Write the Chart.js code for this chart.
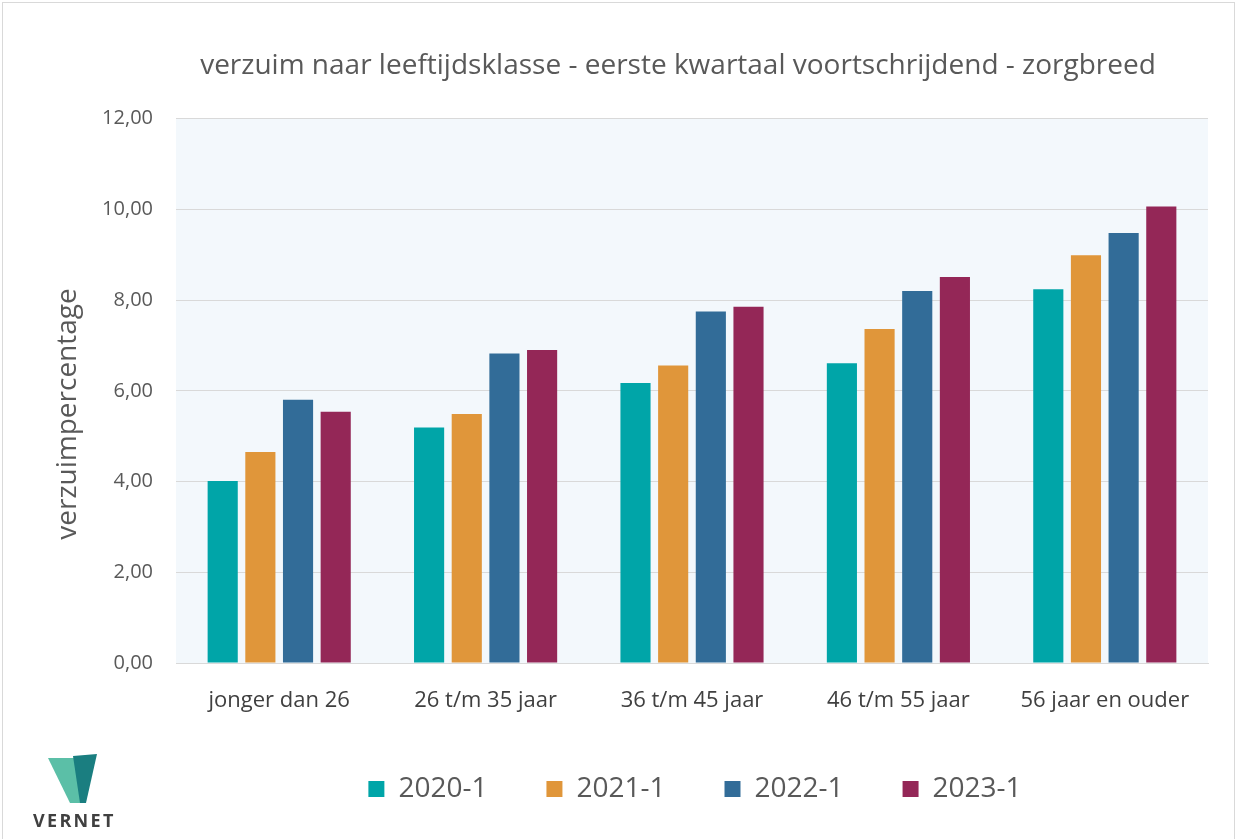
<!DOCTYPE html>
<html>
<head>
<meta charset="utf-8">
<script src="https://cdn.jsdelivr.net/npm/chart.js@4.4.1/dist/chart.umd.min.js"></script>
<style>
  html, body { margin: 0; padding: 0; background: #fff; }
  #wrap { position: relative; width: 1237px; height: 839px; overflow: hidden; }
  #chart { position: absolute; left: 0; top: 0; }
  #frame { position: absolute; left: 2px; top: 2px; right: 2px; bottom: -4px; border: 1px solid #d9d9d9; pointer-events: none; }
  #logo { position: absolute; left: 30px; top: 750px; width: 100px; height: 89px; }
  #logo span { position: absolute; left: 3px; top: 58px; font: bold 18px "Open Sans", sans-serif; letter-spacing: 2.3px; color: #404040; }
</style>
</head>
<body>
<div id="wrap">
  <canvas id="chart" width="1237" height="839"></canvas>
  <div id="frame"></div>
  <div id="logo">
    <svg width="100" height="60" viewBox="0 0 100 60">
      <polygon points="18,8 45,8 55,53 40,53" fill="#5bbfa7"/>
      <polygon points="43,6 67,4 56,53 50,53" fill="#1a7e80"/>
    </svg>
    <span>VERNET</span>
  </div>
</div>
<script>
  // Waarden
  const categories = ['jonger dan 26', '26 t/m 35 jaar', '36 t/m 45 jaar', '46 t/m 55 jaar', '56 jaar en ouder'];
  const seriesLabels = ['2020-1', '2021-1', '2022-1', '2023-1'];
  const values2020 = [4.01, 5.19, 6.17, 6.61, 8.24];
  const values2021 = [4.65, 5.49, 6.56, 7.36, 8.99];
  const values2022 = [5.80, 6.82, 7.75, 8.20, 9.48];
  const values2023 = [5.54, 6.90, 7.85, 8.51, 10.06];
  const yTicks = [0, 2, 4, 6, 8, 10, 12];

  const colors = ['#00a5a8', '#e0963a', '#326c98', '#942757'];
  const allValues = [values2020, values2021, values2022, values2023];
  const yTitle = 'verzuimpercentage';

  // lichte achtergrond van het plotgebied
  const plotBackground = {
    id: 'plotBackground',
    beforeDraw(chart) {
      const { ctx, chartArea } = chart;
      ctx.save();
      ctx.fillStyle = '#f3f8fc';
      ctx.fillRect(chartArea.left, chartArea.top, chartArea.width, chartArea.height);
      ctx.restore();
    }
  };

  // titel en legenda staan in het origineel iets naar rechts
  const shiftBlocks = {
    id: 'shiftBlocks',
    afterLayout(chart) {
      const t = chart.titleBlock;
      t.left = 148;
      t.right = 1208;
      const lg = chart.legend;
      lg.left += 91;
      lg.right += 91;
    }
  };

  // y-as titel (in het origineel iets onder het midden)
  const yAxisTitle = {
    id: 'yAxisTitle',
    afterDraw(chart) {
      const { ctx } = chart;
      ctx.save();
      ctx.translate(68, 414);
      ctx.rotate(-Math.PI / 2);
      ctx.font = '28px "Open Sans"';
      ctx.fillStyle = '#595959';
      ctx.textAlign = 'center';
      ctx.textBaseline = 'middle';
      ctx.fillText(yTitle, 0, 0);
      ctx.restore();
    }
  };

  new Chart(document.getElementById('chart'), {
    type: 'bar',
    data: {
      labels: categories,
      datasets: seriesLabels.map((label, i) => ({
        label: label,
        data: allValues[i],
        backgroundColor: colors[i],
        borderWidth: 0,
        categoryPercentage: 0.73,
        barPercentage: 0.8
      }))
    },
    options: {
      responsive: false,
      animation: false,
      layout: { padding: { left: 0, right: 29, top: 0, bottom: 26 } },
      plugins: {
        title: {
          display: true,
          text: 'verzuim naar leeftijdsklasse - eerste kwartaal voortschrijdend - zorgbreed',
          color: '#595959',
          font: { family: 'Open Sans', size: 28, weight: 'normal' },
          padding: { top: 49, bottom: 36 }
        },
        legend: {
          position: 'bottom',
          labels: {
            color: '#595959',
            font: { family: 'Open Sans', size: 28 },
            boxWidth: 16,
            boxHeight: 16,
            padding: 59
          }
        },
        tooltip: { enabled: false }
      },
      scales: {
        x: {
          grid: { display: false },
          border: { display: true, color: '#d9d9d9' },
          ticks: { color: '#404040', font: { family: 'Open Sans', size: 22 }, padding: 17 },
          afterFit(scale) { scale.height = 53; }
        },
        y: {
          min: 0,
          max: 12,
          afterBuildTicks(scale) { scale.ticks = yTicks.map(v => ({ value: v })); },
          grid: { color: '#d9d9d9', drawTicks: false },
          border: { display: false },
          ticks: {
            color: '#595959',
            font: { family: 'Open Sans', size: 20 },
            padding: 23,
            callback: v => v.toFixed(2).replace('.', ',')
          },
          afterFit(scale) { scale.width = 176; }
        }
      }
    },
    plugins: [plotBackground, shiftBlocks, yAxisTitle]
  });
</script>
</body>
</html>
